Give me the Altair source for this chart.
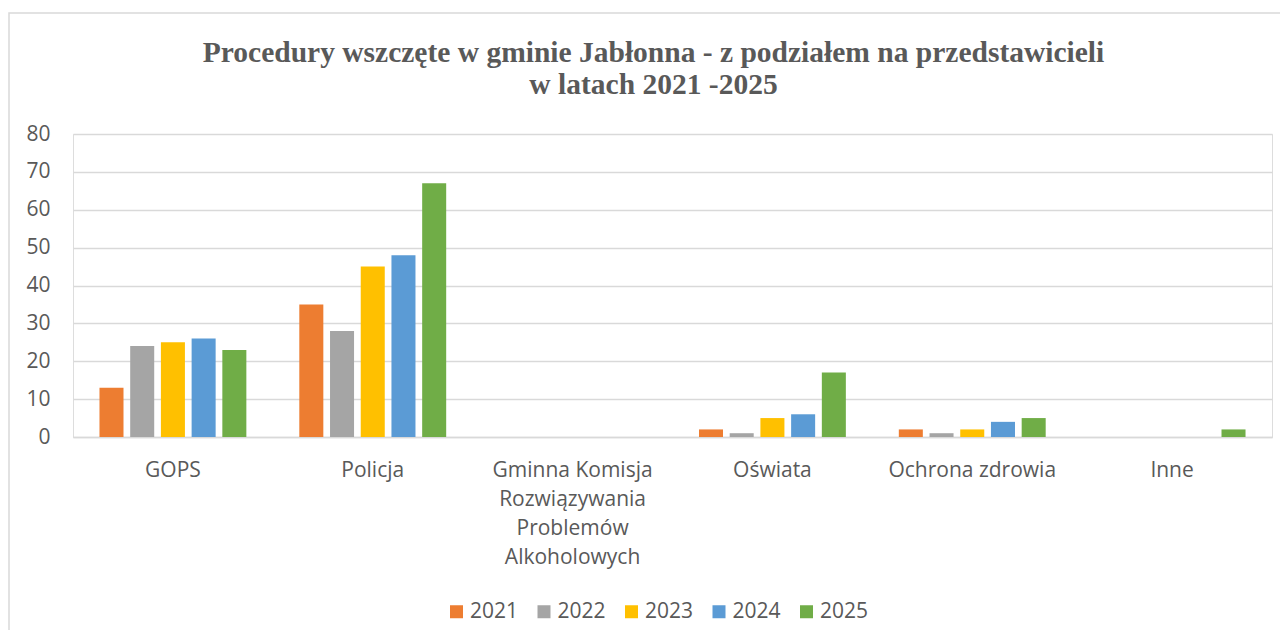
import altair as alt
import pandas as pd

categories = ["GOPS", "Policja", "Gminna Komisja Rozwiązywania Problemów Alkoholowych",
              "Oświata", "Ochrona zdrowia", "Inne"]
years = ["2021", "2022", "2023", "2024", "2025"]
v2021 = [13, 35, 0, 2, 2, 0]
v2022 = [24, 28, 0, 1, 1, 0]
v2023 = [25, 45, 0, 5, 2, 0]
v2024 = [26, 48, 0, 6, 4, 0]
v2025 = [23, 67, 0, 17, 5, 2]
colors = ["#ED7D31", "#A5A5A5", "#FFC000", "#5B9BD5", "#70AD47"]

series = [v2021, v2022, v2023, v2024, v2025]
rows = []
for y, vals in zip(years, series):
    for c, v in zip(categories, vals):
        rows.append({"kategoria": c, "rok": y, "liczba": v})
df = pd.DataFrame(rows)

GREY = "#595959"
FONT = "Open Sans"
FS = 21

label_expr = ("datum.value == 'Gminna Komisja Rozwiązywania Problemów Alkoholowych' ? "
              "['Gminna Komisja', 'Rozwiązywania', 'Problemów', 'Alkoholowych'] : datum.label")

bars = alt.Chart(df).mark_bar().encode(
    x=alt.X("kategoria:N", sort=categories, title=None,
            scale=alt.Scale(paddingInner=0.265, paddingOuter=0.1325),
            axis=alt.Axis(labelAngle=0, labelExpr=label_expr, labelFont=FONT, labelFontSize=FS,
                          labelColor=GREY, labelLineHeight=29, labelPadding=22, ticks=False,
                          domain=True, domainColor="#d9d9d9", domainWidth=1.5, grid=False,
                          labelLimit=400)),
    xOffset=alt.XOffset("rok:N", sort=years,
                        scale=alt.Scale(paddingInner=0.218, paddingOuter=0)),
    y=alt.Y("liczba:Q", title=None,
            scale=alt.Scale(domain=[0, 80], nice=False),
            axis=alt.Axis(values=list(range(0, 81, 10)), labelFont=FONT, labelFontSize=FS,
                          labelColor=GREY, labelPadding=23, ticks=False, domain=False,
                          grid=True, gridColor="#d9d9d9", gridWidth=1.5)),
    color=alt.Color("rok:N", sort=years, title=None,
                    scale=alt.Scale(domain=years, range=colors),
                    legend=alt.Legend(orient="none", legendX=373, legendY=467,
                                      direction="horizontal", symbolType="square",
                                      symbolSize=169, symbolStrokeWidth=0,
                                      labelFont=FONT, labelFontSize=FS, labelColor=GREY,
                                      labelOffset=3, columnPadding=14.5)),
)

border = alt.Chart(alt.Data(values=[{}])).mark_rect(
    fill="transparent", stroke="#d9d9d9", strokeWidth=1.5
).encode(
    x=alt.value(-64), x2=alt.value(1300), y=alt.value(-121), y2=alt.value(600)
)

chart = alt.layer(border, bars).properties(
    width=1199, height=303,
    title=alt.TitleParams(
        ["Procedury wszczęte w gminie Jabłonna - z podziałem na przedstawicieli",
         "w latach 2021 -2025"],
        font="Liberation Serif", fontSize=29.5, fontWeight="bold", color=GREY,
        anchor="middle", frame="group", dx=-19, dy=88, offset=0, lineHeight=32),
    autosize=alt.AutoSizeParams(type="none"),
    padding={"left": 65, "top": 126, "right": 8, "bottom": 193},
).configure_view(strokeWidth=0).configure(background="white")

chart.save("out.html", embed_options={"renderer": "svg", "actions": False})
